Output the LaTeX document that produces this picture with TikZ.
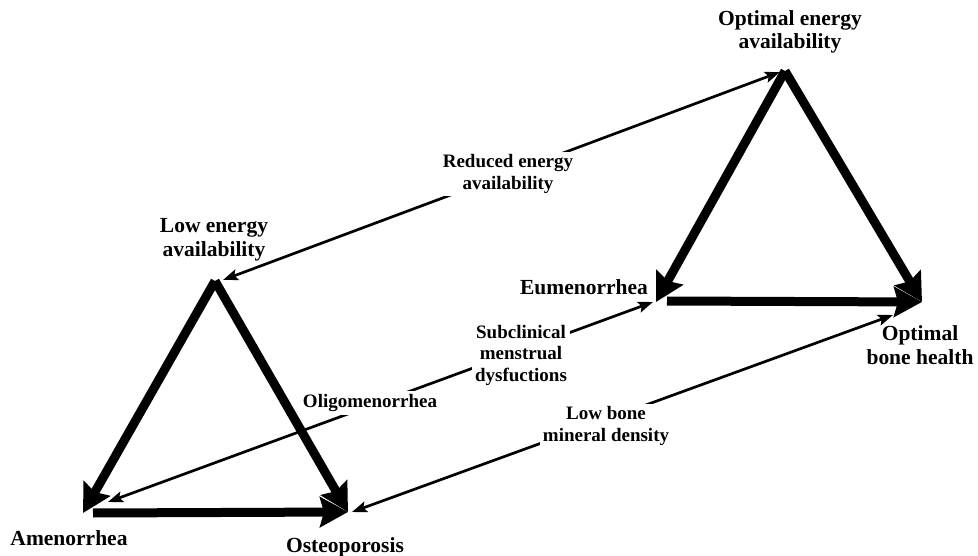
\documentclass[tikz,border=0pt]{standalone}
\usepackage{fontspec}
\setmainfont{Liberation Serif}
\usetikzlibrary{arrows.meta}
\tikzset{
  big/.style={font=\fontsize{21.5}{23.5}\selectfont\bfseries, align=center, inner sep=2pt},
  small/.style={font=\fontsize{19}{21.5}\selectfont\bfseries, align=center, fill=white, inner sep=3pt},
  thickarrow/.style={line width=9pt, -{Stealth[length=28pt,width=30pt,inset=4pt]}},
  thinarrow/.style={line width=2.7pt, {Stealth[length=15pt,width=11pt,inset=3pt]}-{Stealth[length=15pt,width=11pt,inset=3pt]}},
}
\begin{document}
\begin{tikzpicture}[x=1pt,y=-1pt]
\useasboundingbox (0,0) rectangle (978,556);
% vertices of left triangle
\coordinate (LA) at (215,281);
\coordinate (AM) at (83,513);
\coordinate (OS) at (348,512);
\coordinate (LB) at (93,513);
% vertices of right triangle
\coordinate (RA) at (785,71);
\coordinate (EU) at (656,302);
\coordinate (BH) at (922,302);
\coordinate (RB) at (667,301);
% thin arrow ends
\coordinate (t1a) at (223,280);
\coordinate (t1b) at (780,72);
\coordinate (t2a) at (108,502);
\coordinate (t2b) at (653,302);
\coordinate (t3a) at (352,512);
\coordinate (t3b) at (893,315);
% thin arrows
\draw[thinarrow] (t1a) -- (t1b);
\draw[thinarrow] (t2a) -- (t2b);
\draw[thinarrow] (t3a) -- (t3b);
% labels on thin arrows
\node[small] (red) at (508,174) {Reduced energy\\availability};
\node[small] (sub) at (521,355) {Subclinical\\menstrual\\dysfuctions};
\node[small] (oli) at (370,403) {Oligomenorrhea};
\node[small] (lbm) at (606,426) {Low bone\\mineral density};
% main labels
\node[big] (oea) at (790,32) {Optimal energy\\availability};
\node[big] (lea) at (214,240) {Low energy\\availability};
\node[big] (eum) at (584,287) {Eumenorrhea};
\node[big] (obh) at (920,345) {Optimal\\bone health};
\node[big] (ame) at (69,538) {Amenorrhea};
\node[big] (ost) at (345,547) {Osteoporosis};
% thick arrows
\draw[thickarrow] (LA) -- (AM);
\draw[thickarrow] (LA) -- (OS);
\draw[thickarrow] (LB) -- (OS);
\draw[thickarrow] (RA) -- (EU);
\draw[thickarrow] (RA) -- (BH);
\draw[thickarrow] (RB) -- (BH);
\end{tikzpicture}
\end{document}
